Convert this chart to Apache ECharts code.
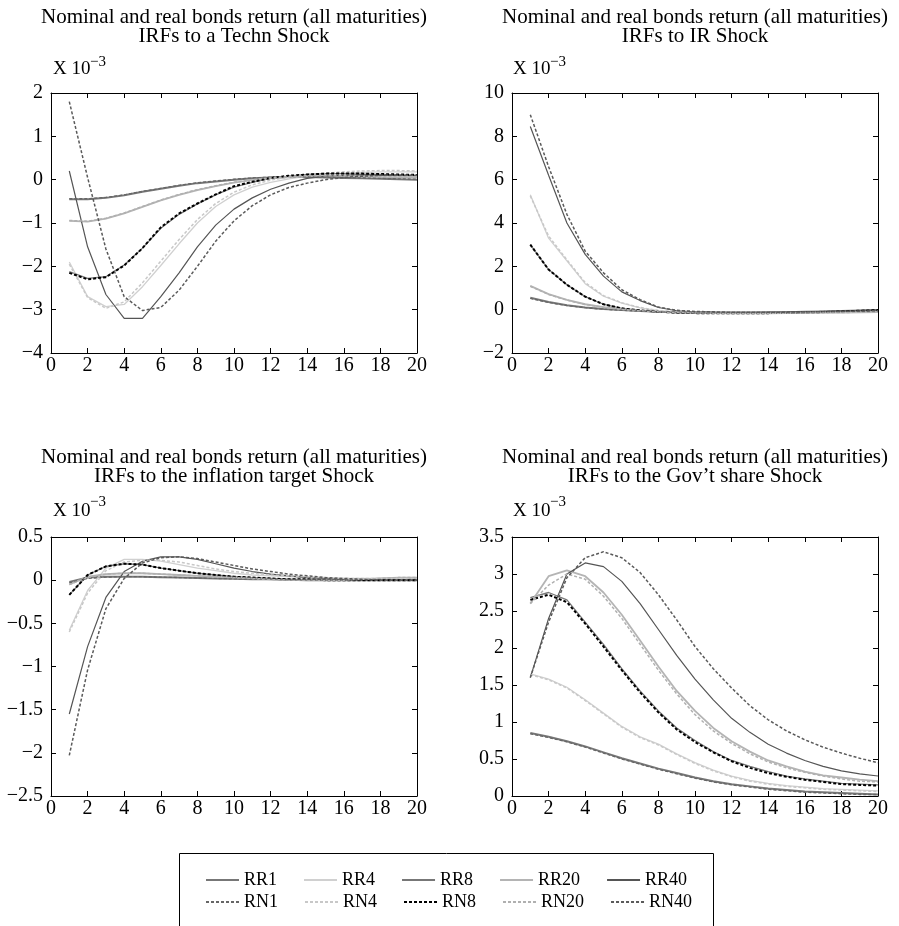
<!DOCTYPE html>
<html>
<head>
<meta charset="utf-8">
<script src="https://cdn.jsdelivr.net/npm/echarts@6/dist/echarts.min.js"></script>
<style>
html,body{margin:0;padding:0;background:#fff;}
#chart{width:899px;height:926px;}
</style>
</head>
<body>
<div id="chart"></div>
<script>
// ---- data (values in units of 10^-3) ----
const steps = [1,2,3,4,5,6,7,8,9,10,11,12,13,14,15,16,17,18,19,20];
const seriesNames = ['RR1','RR4','RR8','RR20','RR40','RN1','RN4','RN8','RN20','RN40'];
const panelTitles = [
  'IRFs to a Techn Shock',
  'IRFs to IR Shock',
  'IRFs to the inflation target Shock',
  'IRFs to the Gov\u2019t share Shock'
];
const commonTitle = 'Nominal and real bonds return (all maturities)';
const yMin = [-4, -2, -2.5, 0];
const yMax = [2, 10, 0.5, 3.5];
const yStep = [1, 2, 0.5, 0.5];

// Panel 1: Techn shock
const techRR1  = [-0.45,-0.45,-0.42,-0.36,-0.28,-0.21,-0.14,-0.08,-0.04,0.0,0.03,0.05,0.06,0.06,0.05,0.04,0.03,0.02,0.01,0.0];
const techRR4  = [-1.9,-2.7,-2.93,-2.88,-2.47,-1.98,-1.48,-1.0,-0.62,-0.35,-0.17,-0.06,0.02,0.08,0.12,0.15,0.17,0.18,0.18,0.18];
const techRR8  = [-2.12,-2.28,-2.24,-1.97,-1.58,-1.12,-0.8,-0.56,-0.35,-0.17,-0.06,0.03,0.08,0.12,0.14,0.14,0.13,0.12,0.11,0.1];
const techRR20 = [-0.95,-0.97,-0.9,-0.78,-0.63,-0.48,-0.35,-0.24,-0.15,-0.07,-0.01,0.03,0.06,0.08,0.08,0.08,0.07,0.06,0.06,0.05];
const techRR40 = [0.2,-1.55,-2.65,-3.2,-3.2,-2.7,-2.15,-1.55,-1.05,-0.68,-0.42,-0.22,-0.08,0.03,0.08,0.1,0.11,0.1,0.1,0.09];
const techRN1  = [-0.44,-0.44,-0.41,-0.35,-0.27,-0.2,-0.13,-0.07,-0.03,0.01,0.04,0.06,0.07,0.07,0.06,0.05,0.04,0.03,0.02,0.01];
const techRN4  = [-1.95,-2.72,-2.97,-2.82,-2.38,-1.88,-1.38,-0.92,-0.55,-0.29,-0.12,-0.01,0.06,0.11,0.15,0.18,0.2,0.21,0.21,0.2];
const techRN8  = [-2.15,-2.3,-2.25,-1.98,-1.58,-1.1,-0.78,-0.55,-0.34,-0.15,-0.05,0.04,0.09,0.12,0.14,0.14,0.14,0.13,0.12,0.11];
const techRN20 = [-0.94,-0.96,-0.89,-0.77,-0.62,-0.47,-0.34,-0.23,-0.14,-0.06,0.0,0.04,0.07,0.09,0.09,0.09,0.08,0.07,0.07,0.06];
const techRN40 = [1.8,0.05,-1.6,-2.7,-3.02,-2.95,-2.55,-2.0,-1.42,-0.95,-0.6,-0.35,-0.18,-0.08,0.0,0.05,0.08,0.1,0.1,0.1];

// Panel 2: IR shock
const irRR1  = [0.55,0.35,0.2,0.1,0.03,-0.02,-0.06,-0.1,-0.12,-0.13,-0.13,-0.13,-0.13,-0.12,-0.12,-0.1,-0.08,-0.06,-0.04,-0.02];
const irRR4  = [5.3,3.3,2.25,1.2,0.62,0.3,0.08,-0.05,-0.1,-0.13,-0.15,-0.16,-0.16,-0.16,-0.15,-0.14,-0.13,-0.12,-0.11,-0.1];
const irRR8  = [3.0,1.85,1.15,0.6,0.25,0.06,-0.03,-0.1,-0.14,-0.16,-0.17,-0.17,-0.17,-0.16,-0.15,-0.13,-0.11,-0.08,-0.05,-0.02];
const irRR20 = [1.1,0.72,0.45,0.25,0.12,0.03,-0.04,-0.09,-0.13,-0.15,-0.16,-0.17,-0.17,-0.17,-0.16,-0.15,-0.14,-0.13,-0.12,-0.11];
const irRR40 = [8.45,6.2,4.0,2.55,1.55,0.82,0.42,0.1,-0.05,-0.1,-0.12,-0.13,-0.13,-0.13,-0.12,-0.11,-0.1,-0.08,-0.06,-0.04];
const irRN1  = [0.52,0.33,0.19,0.09,0.02,-0.03,-0.07,-0.1,-0.12,-0.13,-0.13,-0.13,-0.13,-0.12,-0.11,-0.1,-0.08,-0.06,-0.04,-0.02];
const irRN4  = [5.25,3.4,2.3,1.25,0.65,0.32,0.1,-0.04,-0.1,-0.13,-0.15,-0.16,-0.16,-0.16,-0.15,-0.14,-0.13,-0.12,-0.11,-0.1];
const irRN8  = [3.0,1.85,1.15,0.6,0.25,0.06,-0.03,-0.1,-0.14,-0.16,-0.17,-0.17,-0.17,-0.16,-0.15,-0.13,-0.11,-0.08,-0.05,-0.02];
const irRN20 = [1.08,0.7,0.44,0.24,0.11,0.02,-0.05,-0.1,-0.13,-0.15,-0.16,-0.17,-0.17,-0.17,-0.16,-0.15,-0.14,-0.13,-0.12,-0.11];
const irRN40 = [9.0,6.6,4.4,2.7,1.7,0.92,0.46,0.12,-0.03,-0.08,-0.1,-0.12,-0.12,-0.12,-0.11,-0.1,-0.09,-0.08,-0.06,-0.05];

// Panel 3: inflation target shock
const inflRR1  = [-0.02,0.03,0.04,0.04,0.04,0.035,0.03,0.025,0.02,0.015,0.01,0.01,0.005,0.0,0.0,0.0,0.0,0.0,0.0,0.0];
const inflRR4  = [-0.58,-0.12,0.14,0.24,0.24,0.22,0.18,0.14,0.11,0.08,0.06,0.05,0.04,0.03,0.02,0.02,0.02,0.02,0.03,0.03];
const inflRR8  = [-0.17,0.06,0.16,0.19,0.18,0.14,0.11,0.08,0.06,0.04,0.03,0.02,0.01,0.01,0.0,0.0,0.0,0.0,0.0,0.0];
const inflRR20 = [-0.05,0.04,0.07,0.08,0.08,0.07,0.06,0.05,0.04,0.03,0.02,0.01,0.0,0.0,0.0,0.0,0.01,0.02,0.03,0.03];
const inflRR40 = [-1.55,-0.77,-0.2,0.1,0.22,0.27,0.27,0.24,0.19,0.14,0.1,0.07,0.05,0.03,0.02,0.01,0.0,0.0,0.0,0.0];
const inflRN1  = [-0.03,0.02,0.035,0.04,0.04,0.035,0.03,0.025,0.02,0.015,0.01,0.01,0.005,0.0,0.0,0.0,0.0,0.0,0.005,0.01];
const inflRN4  = [-0.6,-0.15,0.11,0.21,0.23,0.23,0.21,0.17,0.13,0.1,0.08,0.06,0.05,0.04,0.03,0.02,0.02,0.02,0.02,0.02];
const inflRN8  = [-0.17,0.06,0.16,0.19,0.18,0.14,0.11,0.08,0.06,0.04,0.03,0.02,0.01,0.01,0.0,0.0,0.0,0.0,0.0,0.0];
const inflRN20 = [-0.05,0.03,0.07,0.08,0.08,0.07,0.06,0.05,0.04,0.03,0.02,0.01,0.0,0.0,0.0,0.0,0.01,0.02,0.03,0.03];
const inflRN40 = [-2.03,-1.04,-0.33,0.02,0.2,0.26,0.27,0.25,0.21,0.17,0.13,0.1,0.07,0.05,0.03,0.02,0.01,0.0,0.0,0.0];

// Panel 4: Gov't share shock
const govRR1  = [0.85,0.8,0.74,0.67,0.59,0.51,0.44,0.37,0.31,0.25,0.2,0.16,0.13,0.1,0.08,0.06,0.05,0.04,0.03,0.02];
const govRR4  = [1.65,1.58,1.47,1.3,1.12,0.94,0.8,0.7,0.57,0.45,0.35,0.27,0.21,0.17,0.14,0.12,0.1,0.09,0.08,0.07];
const govRR8  = [2.68,2.75,2.65,2.35,2.05,1.72,1.42,1.15,0.92,0.75,0.6,0.48,0.4,0.33,0.27,0.23,0.2,0.17,0.16,0.15];
const govRR20 = [2.6,2.97,3.05,2.97,2.75,2.45,2.1,1.75,1.42,1.15,0.92,0.74,0.6,0.48,0.4,0.33,0.28,0.25,0.22,0.2];
const govRR40 = [1.6,2.4,3.0,3.15,3.1,2.9,2.6,2.25,1.9,1.58,1.3,1.05,0.86,0.7,0.58,0.48,0.4,0.34,0.3,0.27];
const govRN1  = [0.84,0.79,0.73,0.66,0.58,0.5,0.43,0.36,0.3,0.24,0.19,0.15,0.12,0.09,0.07,0.05,0.04,0.03,0.02,0.02];
const govRN4  = [1.64,1.57,1.46,1.29,1.11,0.93,0.79,0.69,0.56,0.44,0.34,0.26,0.2,0.16,0.13,0.11,0.09,0.08,0.07,0.06];
const govRN8  = [2.65,2.72,2.62,2.33,2.02,1.7,1.4,1.13,0.9,0.73,0.59,0.47,0.38,0.31,0.26,0.22,0.19,0.16,0.15,0.14];
const govRN20 = [2.6,2.85,3.0,2.93,2.7,2.4,2.05,1.7,1.38,1.1,0.88,0.71,0.57,0.46,0.38,0.32,0.27,0.23,0.2,0.19];
const govRN40 = [1.6,2.35,2.95,3.22,3.3,3.22,3.02,2.72,2.38,2.02,1.72,1.46,1.22,1.03,0.88,0.76,0.66,0.58,0.51,0.45];

const panelData = [
  [techRR1,techRR4,techRR8,techRR20,techRR40,techRN1,techRN4,techRN8,techRN20,techRN40],
  [irRR1,irRR4,irRR8,irRR20,irRR40,irRN1,irRN4,irRN8,irRN20,irRN40],
  [inflRR1,inflRR4,inflRR8,inflRR20,inflRR40,inflRN1,inflRN4,inflRN8,inflRN20,inflRN40],
  [govRR1,govRR4,govRR8,govRR20,govRR40,govRN1,govRN4,govRN8,govRN20,govRN40]
];

// ---- styles ----
const FONT = "'Liberation Serif','Times New Roman',serif";
const lineStyles = {
  RR1:  {color:'#777777', width:2,   type:'solid'},
  RR4:  {color:'#d0d0d0', width:1.3, type:'solid'},
  RR8:  {color:'#777777', width:1.3, type:'solid'},
  RR20: {color:'#b4b4b4', width:1.8, type:'solid'},
  RR40: {color:'#555555', width:1.2, type:'solid'},
  RN1:  {color:'#666666', width:1.3, type:[3,2]},
  RN4:  {color:'#c8c8c8', width:1.5, type:[3,2]},
  RN8:  {color:'#000000', width:2,   type:[3,2]},
  RN20: {color:'#b0b0b0', width:1.5, type:[3,2]},
  RN40: {color:'#5a5a5a', width:1.5, type:[3,2]}
};

const grids = [
  {left:51,  top:93,  width:366, height:260},
  {left:512, top:93,  width:366, height:260},
  {left:51,  top:537, width:366, height:259},
  {left:512, top:537, width:366, height:259}
];

const fmt = v => String(v).replace('-', '\u2212');
const xAxes = [], yAxes = [], series = [];
grids.forEach((g, i) => {
  const tick = {show:true, inside:true, length:5, lineStyle:{color:'#000', width:1}};
  const line = {show:true, onZero:false, lineStyle:{color:'#000', width:1}};
  xAxes.push({type:'value', gridIndex:i, position:'bottom', min:0, max:20, interval:2,
    axisLine:line, axisTick:tick, splitLine:{show:false},
    axisLabel:{fontFamily:FONT, fontSize:20, color:'#000', margin:3}});
  xAxes.push({type:'value', gridIndex:i, position:'top', min:0, max:20, interval:2,
    axisLine:line, axisTick:tick, splitLine:{show:false}, axisLabel:{show:false}});
  yAxes.push({type:'value', gridIndex:i, position:'left', min:yMin[i], max:yMax[i], interval:yStep[i],
    axisLine:line, axisTick:tick, splitLine:{show:false},
    axisLabel:{fontFamily:FONT, fontSize:20, color:'#000', margin:8, formatter:fmt}});
  yAxes.push({type:'value', gridIndex:i, position:'right', min:yMin[i], max:yMax[i], interval:yStep[i],
    axisLine:line, axisTick:tick, splitLine:{show:false}, axisLabel:{show:false}});
  seriesNames.forEach((name, k) => {
    series.push({
      name: name, type:'line', xAxisIndex:2*i, yAxisIndex:2*i,
      symbol:'none', smooth:false, silent:true,
      lineStyle: lineStyles[name], itemStyle:{color:lineStyles[name].color},
      data: steps.map((s, j) => [s, panelData[i][k][j]])
    });
  });
});

const graphics = [];
const centers = [[234, 17, 36, 53, 69, 62], [695, 17, 36, 513, 69, 62],
                 [234, 457, 476, 53, 511, 502], [695, 457, 476, 513, 511, 502]];
centers.forEach((c, i) => {
  graphics.push({type:'text', x:c[0], y:c[1], style:{text:commonTitle, font:"21px " + FONT, fill:'#000', align:'center', verticalAlign:'middle'}});
  graphics.push({type:'text', x:c[0], y:c[2], style:{text:panelTitles[i], font:"21px " + FONT, fill:'#000', align:'center', verticalAlign:'middle'}});
  graphics.push({type:'text', x:c[3], y:c[4], style:{text:'X 10', font:"19px " + FONT, fill:'#000', align:'left', verticalAlign:'middle'}});
  graphics.push({type:'text', x:c[3] + 37, y:c[5], style:{text:'\u22123', font:"15px " + FONT, fill:'#000', align:'left', verticalAlign:'middle'}});
});
graphics.push({type:'rect', shape:{x:179.5, y:853.5, width:534, height:120},
  style:{fill:'none', stroke:'#000', lineWidth:1}});

const legendCommon = {
  orient:'horizontal', left:205, padding:0, itemWidth:33, itemHeight:14, itemGap:26,
  selectedMode:false, itemStyle:{opacity:0},
  textStyle:{fontFamily:FONT, fontSize:18, color:'#000'}
};

const chart = echarts.init(document.getElementById('chart'), null, {renderer:'canvas'});
chart.setOption({
  animation:false,
  backgroundColor:'#fff',
  grid: grids,
  xAxis: xAxes,
  yAxis: yAxes,
  legend: [
    Object.assign({}, legendCommon, {top:871, data:seriesNames.slice(0,5)}),
    Object.assign({}, legendCommon, {top:893, data:seriesNames.slice(5)})
  ],
  graphic: graphics,
  series: series
});
</script>
</body>
</html>
